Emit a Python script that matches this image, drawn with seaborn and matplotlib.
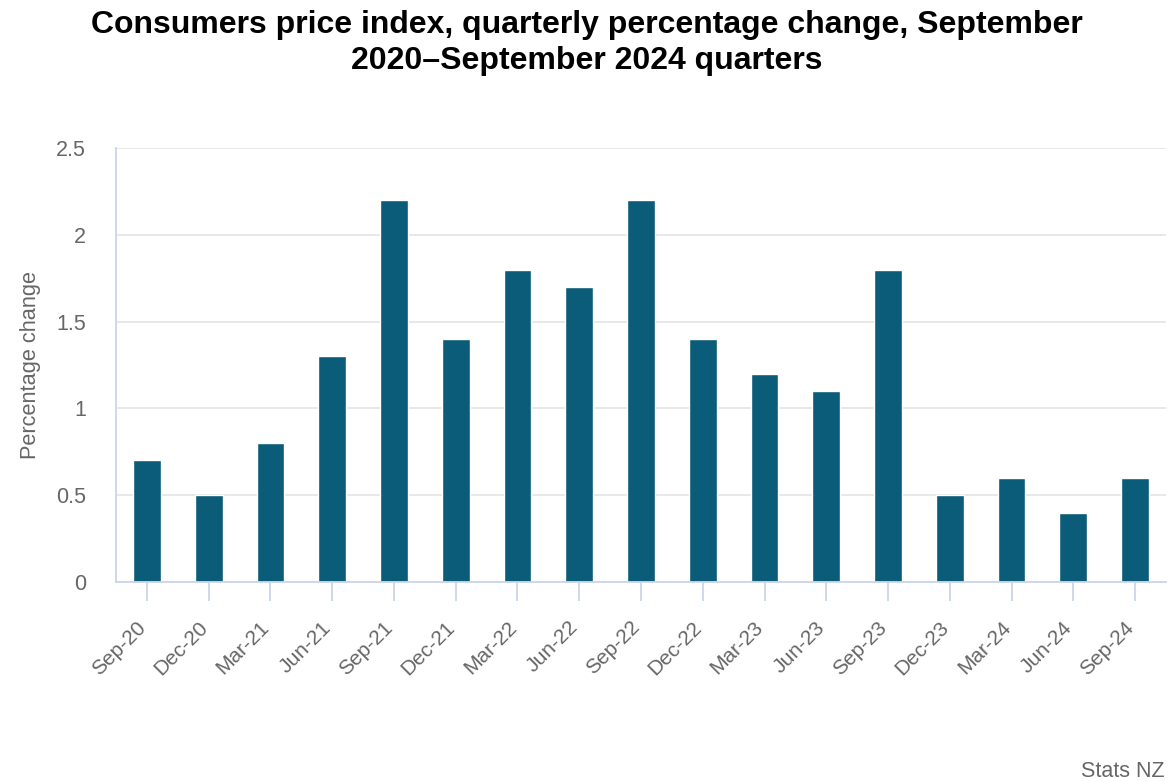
import matplotlib
matplotlib.use("Agg")
import matplotlib.pyplot as plt
import matplotlib.transforms as mtransforms
import seaborn as sns
import pandas as pd

quarters = ["Sep-20", "Dec-20", "Mar-21", "Jun-21", "Sep-21", "Dec-21", "Mar-22", "Jun-22",
            "Sep-22", "Dec-22", "Mar-23", "Jun-23", "Sep-23", "Dec-23", "Mar-24", "Jun-24", "Sep-24"]
values = [0.7, 0.5, 0.8, 1.3, 2.2, 1.4, 1.8, 1.7, 2.2, 1.4, 1.2, 1.1, 1.8, 0.5, 0.6, 0.4, 0.6]
yticks = [0, 0.5, 1, 1.5, 2, 2.5]
ytick_labels = ["0", "0.5", "1", "1.5", "2", "2.5"]

sns.set_style("white")
plt.rcParams['font.family'] = ['Liberation Sans', 'DejaVu Sans']

df = pd.DataFrame({"quarter": quarters, "value": values})

fig = plt.figure(figsize=(11.73, 7.81), dpi=100)
ax = fig.add_axes([0.0989, 0.2548, 0.8951, 0.5557])
sns.barplot(data=df, x="quarter", y="value", color="#0a5c78", saturation=1, width=0.45, ax=ax)

ax.set_xlim(-0.5, len(quarters) - 0.5)
ax.set_ylim(0, 2.5)
ax.set_yticks(yticks)
ax.set_yticklabels(ytick_labels)
ax.yaxis.grid(True, color="#e6e6e6", linewidth=1.3)
ax.set_axisbelow(True)
for s in ["top", "right"]:
    ax.spines[s].set_visible(False)
ax.spines["left"].set_color("#ccd6eb")
ax.spines["bottom"].set_color("#ccd6eb")
ax.spines["left"].set_linewidth(1.3)
ax.spines["bottom"].set_linewidth(1.3)

ax.tick_params(axis="x", length=13.5, width=1.3, color="#ccd6eb", labelsize=15,
               labelcolor="#666666", pad=17, bottom=True)
ax.tick_params(axis="y", length=0, labelsize=15.5, labelcolor="#666666", pad=21.5)
offset = mtransforms.ScaledTranslation(-4 / 100, 0, fig.dpi_scale_trans)
for lbl in ax.get_xticklabels():
    lbl.set_rotation(45)
    lbl.set_ha("right")
    lbl.set_va("center")
    lbl.set_rotation_mode("anchor")
    lbl.set_transform(lbl.get_transform() + offset)

ax.set_xlabel("")
ax.set_ylabel("Percentage change", color="#666666", fontsize=15.7, labelpad=11)

fig.suptitle("Consumers price index, quarterly percentage change, September\n2020\u2013September 2024 quarters",
             x=0.5, y=0.987, fontsize=23, fontweight="bold", color="#000000", linespacing=1.25)
fig.text(0.993, 0.005, "Stats NZ", ha="right", va="baseline", fontsize=15.5, color="#666666")

fig.savefig("out.png", dpi=100)
